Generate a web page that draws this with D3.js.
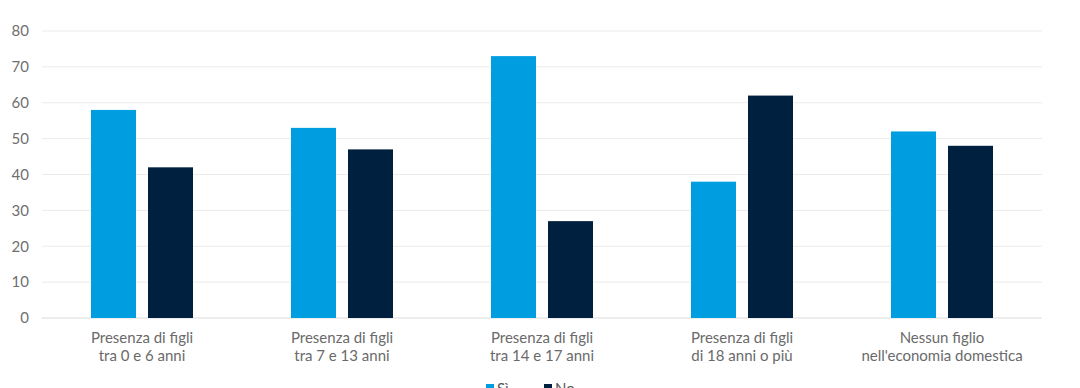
<!DOCTYPE html>
<html><head><meta charset="utf-8">
<script src="https://cdn.jsdelivr.net/npm/d3@7"></script>
<style>body{margin:0;background:#fff;}svg{display:block;font-family:Lato,"Noto Sans",sans-serif;}</style>
</head><body><svg id="c" width="1080" height="388"></svg>
<script>
const categories = [["Presenza di figli","tra 0 e 6 anni"],["Presenza di figli","tra 7 e 13 anni"],["Presenza di figli","tra 14 e 17 anni"],["Presenza di figli","di 18 anni o più"],["Nessun figlio","nell'economia domestica"]];
const si = [58,53,73,38,52];
const no = [42,47,27,62,48];
const seriesNames = ["Sì","No"];
const yTicks = [0,10,20,30,40,50,60,70,80];
const colors = ["#009ee0","#00203f"];

const svg = d3.select("#c");
const x = d3.scaleBand().domain(d3.range(categories.length)).range([42,1042]);
const y = d3.scaleLinear().domain([0,80]).range([318,31]);
const xs = d3.scaleBand().domain([0,1]).range([x.bandwidth()/2-51, x.bandwidth()/2+51]).paddingInner(12/57);

svg.append("g").selectAll("line").data(yTicks).join("line")
  .attr("x1",42).attr("x2",1042).attr("y1",d=>y(d)).attr("y2",d=>y(d))
  .attr("stroke",d=>d===0?"#d9d9d9":"#ebebeb").attr("stroke-width",1);
svg.append("g").selectAll("text").data(yTicks).join("text")
  .attr("x",29).attr("y",d=>y(d)).attr("dy","0.35em").attr("text-anchor","end")
  .attr("font-size",15).attr("fill","#6f6f6f").text(d=>d);

const series=[si,no];
series.forEach((s,k)=>{
  svg.append("g").selectAll("rect").data(s).join("rect")
    .attr("x",(d,i)=>x(i)+xs(k)).attr("width",xs.bandwidth())
    .attr("y",d=>y(d)).attr("height",d=>y(0)-y(d)).attr("fill",colors[k]);
});

const lab = svg.append("g").selectAll("text").data(categories).join("text")
  .attr("text-anchor","middle").attr("font-size",15).attr("fill","#6a6a6a")
  .attr("x",(d,i)=>x(i)+x.bandwidth()/2);
lab.each(function(d){
  const t=d3.select(this);
  d.forEach((l,k)=>t.append("tspan").attr("x",t.attr("x")).attr("y",343+k*18).text(l));
});

const leg = svg.append("g");
const lx=[486,544];
seriesNames.forEach((n,i)=>{
  leg.append("rect").attr("x",lx[i]).attr("y",384).attr("width",8).attr("height",8).attr("fill",colors[i]);
  leg.append("text").attr("x",lx[i]+11).attr("y",394).attr("font-size",15).attr("fill","#555").text(n);
});
</script></body></html>
